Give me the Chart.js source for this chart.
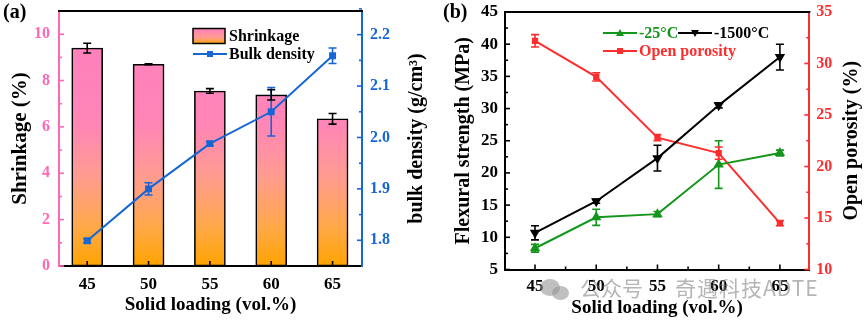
<!DOCTYPE html>
<html><head><meta charset="utf-8">
<script src="https://cdn.jsdelivr.net/npm/chart.js@4.4.0/dist/chart.umd.min.js"></script>
<style>
html,body{margin:0;padding:0;background:#fff;width:865px;height:323px;overflow:hidden}
#wa{position:absolute;left:0;top:0;width:430px;height:323px}
#wb{position:absolute;left:430px;top:0;width:435px;height:323px}
#wm{position:absolute;left:580px;top:274px;font-family:"Noto Sans CJK SC";font-size:21px;color:rgba(120,120,120,0.55);white-space:nowrap;line-height:26px}
#wm span{margin-left:32px;letter-spacing:1px}
#ic1{position:absolute;left:540px;top:279px;width:20px;height:17px;border-radius:50%;background:rgba(150,150,150,0.6)}
#ic2{position:absolute;left:552px;top:286px;width:17px;height:14px;border-radius:50%;background:rgba(150,150,150,0.6)}
</style></head><body>
<div id="wa"><canvas id="ca" width="430" height="323"></canvas></div>
<div id="wb"><canvas id="cb" width="435" height="323"></canvas></div>
<div id="ic1"></div><div id="ic2"></div>
<div id="wm">公众号<span>奇遇科技ADTE</span></div>
<script>
// ---------- data ----------
const solidLoading = [45, 50, 55, 60, 65];
const shrinkage = [9.4, 8.7, 7.55, 7.38, 6.35];
const shrinkageErr = [0.21, 0.02, 0.1, 0.22, 0.23];
const bulkDensity = [1.799, 1.90, 1.988, 2.05, 2.159];
const bulkDensityErr = [0.004, 0.012, 0.004, 0.047, 0.015];
const strength25 = [8.3, 13.1, 13.6, 21.3, 23.1];
const strength25Err = [0.6, 1.25, 0.4, 3.7, 0.45];
const strength1500 = [10.7, 15.6, 22.3, 30.5, 38.0];
const strength1500Err = [1.1, 0.3, 2.0, 0.4, 2.0];
const openPorosity = [32.2, 28.7, 22.8, 21.3, 14.5];
const openPorosityErr = [0.6, 0.4, 0.3, 0.6, 0.25];
const shrinkTicks = [0, 2, 4, 6, 8, 10];
const densityTicks = [1.8, 1.9, 2.0, 2.1, 2.2];
const strengthTicks = [5, 10, 15, 20, 25, 30, 35, 40, 45];
const porosityTicks = [10, 15, 20, 25, 30, 35];

const SERIF = "'Liberation Serif', 'Times New Roman', serif";
const PINK = '#FF69B4', BLUE = '#1766D6', GREEN = '#14951C', RED = '#FF2E2E';

const mids = arr => arr.slice(1).map((v, i) => (v + arr[i]) / 2);
const pts = (xs, ys) => xs.map((x, i) => ({x, y: ys[i]}));

function barGradient(ctx, area) {
  const g = ctx.createLinearGradient(0, area.bottom, 0, area.top);
  g.addColorStop(0, '#FFA300');
  g.addColorStop(0.15, '#FFA948');
  g.addColorStop(0.35, '#FF9C90');
  g.addColorStop(0.55, '#FF86B6');
  g.addColorStop(1, '#FF7EC0');
  return g;
}

// ---------- plugins ----------
const errorBars = {
  id: 'errorBars',
  afterDatasetsDraw(chart) {
    const ctx = chart.ctx;
    chart.data.datasets.forEach((ds, i) => {
      if (!ds.errors) return;
      const meta = chart.getDatasetMeta(i);
      const ys = chart.scales[meta.yAxisID];
      ctx.save();
      ctx.strokeStyle = ds.errColor; ctx.lineWidth = 1.6;
      meta.data.forEach((el, j) => {
        const v = ds.data[j].y, e = ds.errors[j];
        const x = el.x, y1 = ys.getPixelForValue(v + e), y2 = ys.getPixelForValue(v - e);
        ctx.beginPath();
        ctx.moveTo(x, y1); ctx.lineTo(x, y2);
        ctx.moveTo(x - 4, y1); ctx.lineTo(x + 4, y1);
        ctx.moveTo(x - 4, y2); ctx.lineTo(x + 4, y2);
        ctx.stroke();
      });
      ctx.restore();
    });
  }
};

const innerTicks = {
  id: 'innerTicks',
  afterDraw(chart, args, opts) {
    const ctx = chart.ctx, ca = chart.chartArea;
    (opts.axes || []).forEach(a => {
      const s = chart.scales[a.id];
      ctx.save(); ctx.strokeStyle = a.color; ctx.lineWidth = 1.6;
      const draw = (v, len) => {
        ctx.beginPath();
        if (s.isHorizontal()) {
          const x = s.getPixelForValue(v);
          ctx.moveTo(x, ca.bottom); ctx.lineTo(x, ca.bottom - len);
        } else {
          const y = s.getPixelForValue(v);
          const x0 = s.position === 'left' ? ca.left : ca.right;
          const d = s.position === 'left' ? 1 : -1;
          ctx.moveTo(x0, y); ctx.lineTo(x0 + d * len, y);
        }
        ctx.stroke();
      };
      a.major.forEach(v => draw(v, 5));
      (a.minor || []).forEach(v => draw(v, 3));
      ctx.restore();
    });
  }
};

const frame = {
  id: 'frame',
  afterDraw(chart, args, opts) {
    const ctx = chart.ctx, ca = chart.chartArea;
    ctx.save();
    ctx.strokeStyle = '#000'; ctx.lineWidth = 2;
    ctx.beginPath(); ctx.moveTo(ca.left - 1, ca.top); ctx.lineTo(ca.right + 1, ca.top); ctx.stroke();
    ctx.fillStyle = '#000';
    ctx.font = 'bold 20px ' + SERIF;
    ctx.textBaseline = 'top'; ctx.textAlign = 'left';
    ctx.fillText(opts.label, opts.lx, opts.ly);
    // right axis title (reads bottom to top)
    ctx.font = 'bold 20px ' + SERIF;
    ctx.translate(opts.rx, (ca.top + ca.bottom) / 2);
    ctx.rotate(-Math.PI / 2);
    ctx.textAlign = 'center'; ctx.textBaseline = 'middle';
    ctx.fillText(opts.rtitle, 0, 0);
    ctx.restore();
  }
};

const customLegend = {
  id: 'customLegend',
  afterDraw(chart, args, opts) {
    const ctx = chart.ctx;
    ctx.save();
    ctx.font = 'bold 16px ' + SERIF;
    ctx.textBaseline = 'middle'; ctx.textAlign = 'left';
    (opts.items || []).forEach(it => {
      if (it.type === 'box') {
        const g = ctx.createLinearGradient(0, it.y + 8, 0, it.y - 8);
        g.addColorStop(0, '#FFA300'); g.addColorStop(0.4, '#FF9C90'); g.addColorStop(1, '#FF7EC0');
        ctx.fillStyle = g; ctx.fillRect(it.x, it.y - 7.5, 32, 15);
        ctx.strokeStyle = '#000'; ctx.lineWidth = 1.5; ctx.strokeRect(it.x, it.y - 7.5, 32, 15);
      } else {
        ctx.strokeStyle = it.color; ctx.lineWidth = 2;
        ctx.beginPath(); ctx.moveTo(it.x, it.y); ctx.lineTo(it.x + 34, it.y); ctx.stroke();
        ctx.fillStyle = it.color;
        const cx = it.x + 17, cy = it.y;
        ctx.beginPath();
        if (it.marker === 'rect') ctx.rect(cx - 3, cy - 3, 6, 6);
        else if (it.marker === 'up') { ctx.moveTo(cx, cy - 4); ctx.lineTo(cx + 4, cy + 3); ctx.lineTo(cx - 4, cy + 3); }
        else { ctx.moveTo(cx, cy + 4); ctx.lineTo(cx + 4, cy - 3); ctx.lineTo(cx - 4, cy - 3); }
        ctx.fill();
      }
      ctx.fillStyle = it.textColor;
      ctx.fillText(it.text, it.x + 36, it.y + 1);
    });
    ctx.restore();
  }
};

function fixY(width) {
  return s => { s.width = width; s.paddingTop = 0; s.paddingBottom = 0; s.paddingLeft = 0; s.paddingRight = 0; };
}
function fixX(height) {
  return s => { s.height = height; s.paddingTop = 0; s.paddingBottom = 0; s.paddingLeft = 0; s.paddingRight = 0; };
}
const setTicks = arr => s => { s.ticks = arr.map(v => ({value: v})); };

// ---------- chart (a) ----------
new Chart(document.getElementById('ca'), {
  type: 'bar',
  data: {
    datasets: [
      {
        type: 'line', label: 'Bulk density', yAxisID: 'y1', order: 0,
        data: pts(solidLoading, bulkDensity), errors: bulkDensityErr, errColor: BLUE,
        borderColor: BLUE, backgroundColor: BLUE, borderWidth: 2,
        pointStyle: 'rect', pointRadius: 3.5, pointBackgroundColor: BLUE, pointBorderColor: BLUE
      },
      {
        type: 'bar', label: 'Shrinkage', yAxisID: 'y', order: 1,
        data: pts(solidLoading, shrinkage), errors: shrinkageErr, errColor: '#000',
        barThickness: 31, borderColor: '#000', borderWidth: 1.6, borderSkipped: false,
        backgroundColor: c => { const a = c.chart.chartArea; return a ? barGradient(c.chart.ctx, a) : '#FF7EC0'; }
      }
    ]
  },
  options: {
    responsive: false, animation: false, events: [],
    layout: {padding: {top: 11, left: 0, right: 0, bottom: 0}},
    plugins: {
      legend: {display: false}, tooltip: {enabled: false},
      frame: {label: '(a)', lx: 3, ly: 3, rx: 417, rtitle: 'bulk density (g/cm³)'},
      innerTicks: {axes: [
        {id: 'y', color: PINK, major: shrinkTicks, minor: mids(shrinkTicks)},
        {id: 'y1', color: BLUE, major: densityTicks, minor: mids(densityTicks).concat([2.25])},
        {id: 'x', color: '#000', major: solidLoading}
      ]},
      customLegend: {items: [
        {type: 'box', x: 193, y: 36, text: 'Shrinkage', textColor: '#000'},
        {type: 'line', x: 193, y: 54, text: 'Bulk density', textColor: '#000', color: BLUE, marker: 'rect'}
      ]}
    },
    scales: {
      x: {
        type: 'linear', min: 42.7, max: 67.4, offset: false,
        afterBuildTicks: setTicks(solidLoading), afterFit: fixX(57),
        grid: {display: false, drawTicks: false},
        border: {display: true, color: '#000', width: 2},
        ticks: {color: '#000', padding: 8, font: {family: SERIF, size: 17, weight: 'bold'}},
        title: {display: true, text: 'Solid loading (vol.%)', color: '#000', padding: {top: 0, bottom: 7}, font: {family: SERIF, size: 19, weight: 'bold'}}
      },
      y: {
        position: 'left', min: 0, max: 11,
        afterBuildTicks: setTicks(shrinkTicks), afterFit: fixY(59),
        grid: {display: false, drawTicks: false},
        border: {display: true, color: PINK, width: 2},
        ticks: {color: PINK, padding: 9, font: {family: SERIF, size: 16, weight: 'bold'}},
        title: {display: true, text: 'Shrinkage (%)', color: '#000', padding: {top: 8, bottom: 0}, font: {family: SERIF, size: 21, weight: 'bold'}}
      },
      y1: {
        position: 'right', min: 1.75, max: 2.246,
        afterBuildTicks: setTicks(densityTicks), afterFit: fixY(68),
        grid: {display: false, drawTicks: false},
        border: {display: true, color: BLUE, width: 2},
        ticks: {color: BLUE, padding: 8, callback: v => v.toFixed(1), font: {family: SERIF, size: 16, weight: 'bold'}}
      }
    }
  },
  plugins: [errorBars, innerTicks, frame, customLegend]
});

// ---------- chart (b) ----------
new Chart(document.getElementById('cb'), {
  type: 'line',
  data: {
    datasets: [
      {
        label: '-25°C', yAxisID: 'y', data: pts(solidLoading, strength25), errors: strength25Err, errColor: GREEN,
        borderColor: GREEN, backgroundColor: GREEN, borderWidth: 2,
        pointStyle: 'triangle', pointRadius: 4, pointBackgroundColor: GREEN, pointBorderColor: GREEN
      },
      {
        label: '-1500°C', yAxisID: 'y', data: pts(solidLoading, strength1500), errors: strength1500Err, errColor: '#000',
        borderColor: '#000', backgroundColor: '#000', borderWidth: 2,
        pointStyle: 'triangle', rotation: 180, pointRadius: 4, pointBackgroundColor: '#000', pointBorderColor: '#000'
      },
      {
        label: 'Open porosity', yAxisID: 'y1', data: pts(solidLoading, openPorosity), errors: openPorosityErr, errColor: RED,
        borderColor: RED, backgroundColor: RED, borderWidth: 2,
        pointStyle: 'rect', pointRadius: 3, pointBackgroundColor: RED, pointBorderColor: RED
      }
    ]
  },
  options: {
    responsive: false, animation: false, events: [],
    layout: {padding: {top: 12, left: 0, right: 0, bottom: 0}},
    plugins: {
      legend: {display: false}, tooltip: {enabled: false},
      frame: {label: '(b)', lx: 13, ly: 3, rx: 422, rtitle: 'Open porosity (%)'},
      innerTicks: {axes: [
        {id: 'y', color: '#000', major: strengthTicks, minor: mids(strengthTicks)},
        {id: 'y1', color: RED, major: porosityTicks, minor: mids(porosityTicks)},
        {id: 'x', color: '#000', major: solidLoading, minor: mids(solidLoading)}
      ]},
      customLegend: {items: [
        {type: 'line', x: 173, y: 33, text: '-25°C', textColor: GREEN, color: GREEN, marker: 'up'},
        {type: 'line', x: 248, y: 33, text: '-1500°C', textColor: '#000', color: '#000', marker: 'down'},
        {type: 'line', x: 173, y: 51, text: 'Open porosity', textColor: RED, color: RED, marker: 'rect'}
      ]}
    },
    scales: {
      x: {
        type: 'linear', min: 42.55, max: 67.4, offset: false,
        afterBuildTicks: setTicks(solidLoading), afterFit: fixX(53.5),
        grid: {display: false, drawTicks: false},
        border: {display: true, color: '#000', width: 2},
        ticks: {color: '#000', padding: 7, font: {family: SERIF, size: 17, weight: 'bold'}},
        title: {display: true, text: 'Solid loading (vol.%)', color: '#000', padding: {top: 0, bottom: 4}, font: {family: SERIF, size: 19, weight: 'bold'}}
      },
      y: {
        position: 'left', min: 5, max: 45,
        afterBuildTicks: setTicks(strengthTicks), afterFit: fixY(75),
        grid: {display: false, drawTicks: false},
        border: {display: true, color: '#000', width: 2},
        ticks: {color: '#000', padding: 7, font: {family: SERIF, size: 17, weight: 'bold'}},
        title: {display: true, text: 'Flexural strength (MPa)', color: '#000', padding: {top: 22, bottom: 0}, font: {family: SERIF, size: 20, weight: 'bold'}}
      },
      y1: {
        position: 'right', min: 10, max: 35,
        afterBuildTicks: setTicks(porosityTicks), afterFit: fixY(55.7),
        grid: {display: false, drawTicks: false},
        border: {display: true, color: RED, width: 2},
        ticks: {color: RED, padding: 7, font: {family: SERIF, size: 16, weight: 'bold'}}
      }
    }
  },
  plugins: [errorBars, innerTicks, frame, customLegend]
});
</script>
</body></html>
